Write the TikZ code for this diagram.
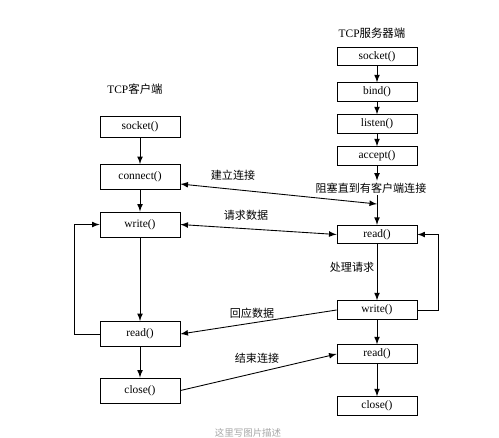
\documentclass[tikz,border=0pt]{standalone}
\usepackage{fontspec}
\setmainfont{Liberation Serif}
\newfontfamily\cjk{Noto Sans CJK SC}
\usepackage{tikz}
\usetikzlibrary{arrows,positioning,calc}

\begin{document}
\begin{tikzpicture}[x=0.02cm,y=-0.02cm,line width=0.5pt,
  cli/.style={draw,minimum width=1.6cm,minimum height=0.5cm,inner sep=0pt,font=\fontsize{6.5}{7}\selectfont},
  srv/.style={draw,minimum width=1.6cm,minimum height=0.37cm,inner sep=0pt,font=\fontsize{6.5}{7}\selectfont},
  lbl/.style={inner sep=1pt,font=\cjk\fontsize{6.3}{7}\selectfont},
  flow/.style={-latex}]%
\useasboundingbox (0,0) rectangle (499,437);%%
%%TITRES
\node[font=\fontsize{6.5}{7}\selectfont] (tcli) at (135,89) {TCP{\cjk 客户端}};%%
\node[font=\fontsize{6.5}{7}\selectfont] (tsrv) at (372,33) {TCP{\cjk 服务器端}};%%
%%CLIENT
\node[cli,minimum height=0.41cm] (csock) at (140,127) {socket()};%%
\node[cli] (cconn) at (140,177) {connect()};%%
\node[cli] (cwrite) at (140,224.5) {write()};%%
\node[cli] (cread) at (140,334) {read()};%%
\node[cli] (cclose) at (140,390.5) {close()};%%
%%SERVEUR
\node[srv] (ssock) at (377,56.5) {socket()};%%
\node[srv] (sbind) at (377,92) {bind()};%%
\node[srv] (slisten) at (377,124) {listen()};%%
\node[srv] (saccept) at (377,156) {accept()};%%
\node[lbl] (block) at (371,188) {阻塞直到有客户端连接};%%
\node[srv] (sread) at (377,234.5) {read()};%%
\node[srv] (swrite) at (377,310) {write()};%%
\node[srv] (sread2) at (377,354) {read()};%%
\node[srv] (sclose) at (377,406) {close()};%%
\coordinate (meet) at (377,204);%%
%%TEXTE FLECHES
\node[lbl] (lconn) at (233,175) {建立连接};%%
\node[lbl] (lreq) at (246,215) {请求数据};%%
\node[lbl] (lproc) at (352,267) {处理请求};%%
\node[lbl] (lresp) at (252,313) {回应数据};%%
\node[lbl] (lend) at (257,358) {结束连接};%%
\node[font=\cjk\fontsize{5.4}{6}\selectfont,text=gray!70] (caption) at (248,433) {这里写图片描述};%%
%%FLECHES CLIENT
\draw[flow] (csock)--(cconn);%%
\draw[flow] (cconn)--(cwrite);%%
\draw[flow] (cwrite)--(cread);%%
\draw[flow] (cread)--(cclose);%%
\draw[flow] (cread.west)--++(-25,0)|-(cwrite.west);%%
%%FLECHES SERVEUR
\draw[flow] (ssock)--(sbind);%%
\draw[flow] (sbind)--(slisten);%%
\draw[flow] (slisten)--(saccept);%%
\draw[flow] (saccept.south)--(saccept.south|-block.north);%%
\draw[flow] (saccept.south|-block.south)--(sread.north);%%
\draw[flow] (sread)--(swrite);%%
\draw[flow] (swrite)--(sread2);%%
\draw[flow] (sread2)--(sclose);%%
\draw[flow] (swrite.east)--++(21,0)|-(sread.east);%%
%%ECHANGES
\draw[latex-latex] ($(cconn.east)+(0,7)$)--(meet);%%
\draw[latex-latex] (cwrite.east)--(sread.west);%%
\draw[flow] (swrite.west)--(cread.east);%%
\draw[flow] (cclose.east)--(sread2.west);%%
\end{tikzpicture}
\end{document}
